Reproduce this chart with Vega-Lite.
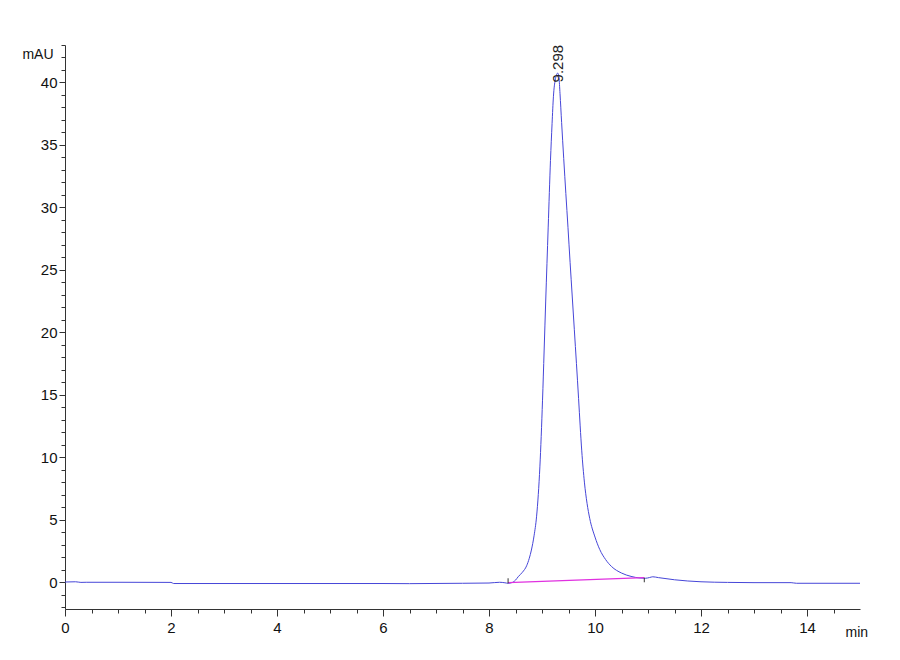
{
  "$schema": "https://vega.github.io/schema/vega-lite/v6.json",
  "width": 795,
  "height": 564,
  "autosize": "none",
  "padding": {"left": 65, "top": 45, "right": 40, "bottom": 51},
  "background": "white",
  "config": {
    "view": {"stroke": null},
    "axis": {
      "grid": false,
      "domainColor": "#333",
      "tickColor": "#333",
      "labelColor": "#111",
      "titleColor": "#111",
      "labelFont": "Liberation Sans, Arial, sans-serif",
      "titleFont": "Liberation Sans, Arial, sans-serif",
      "labelFontSize": 15,
      "titleFontSize": 14,
      "titleFontWeight": "normal",
      "labelOverlap": false,
      "labelFlush": false,
      "tickCount": 200,
      "format": "d"
    }
  },
  "datasets": {
    "signal": [
      {"t": 0.0, "v": 0.0}, {"t": 0.2, "v": 0.02}, {"t": 0.3, "v": -0.03}, {"t": 0.4, "v": -0.02},
      {"t": 1.0, "v": -0.02}, {"t": 2.0, "v": -0.03}, {"t": 2.05, "v": -0.12}, {"t": 4.0, "v": -0.12},
      {"t": 6.0, "v": -0.12}, {"t": 6.5, "v": -0.13}, {"t": 7.5, "v": -0.1}, {"t": 8.0, "v": -0.08},
      {"t": 8.2, "v": -0.02}, {"t": 8.3, "v": -0.06}, {"t": 8.36, "v": -0.1}, {"t": 8.45, "v": -0.02},
      {"t": 8.5, "v": 0.15}, {"t": 8.55, "v": 0.42}, {"t": 8.63, "v": 0.78}, {"t": 8.71, "v": 1.3},
      {"t": 8.76, "v": 1.9}, {"t": 8.8, "v": 2.56}, {"t": 8.85, "v": 3.7}, {"t": 8.897, "v": 5.22},
      {"t": 8.93, "v": 7.0}, {"t": 8.96, "v": 9.22}, {"t": 9.01, "v": 14.56}, {"t": 9.04, "v": 18.5},
      {"t": 9.07, "v": 22.5}, {"t": 9.117, "v": 28.42}, {"t": 9.16, "v": 33.76}, {"t": 9.19, "v": 36.7},
      {"t": 9.216, "v": 38.9}, {"t": 9.25, "v": 40.2}, {"t": 9.298, "v": 40.75}, {"t": 9.32, "v": 40.4},
      {"t": 9.34, "v": 39.1}, {"t": 9.37, "v": 36.8}, {"t": 9.41, "v": 33.9}, {"t": 9.45, "v": 31.1},
      {"t": 9.49, "v": 28.4}, {"t": 9.53, "v": 25.6}, {"t": 9.57, "v": 22.9}, {"t": 9.61, "v": 20.2},
      {"t": 9.65, "v": 17.5}, {"t": 9.69, "v": 14.7}, {"t": 9.72, "v": 12.5}, {"t": 9.75, "v": 10.5},
      {"t": 9.8, "v": 8.0}, {"t": 9.85, "v": 6.3}, {"t": 9.9, "v": 5.1}, {"t": 10.0, "v": 3.6},
      {"t": 10.09, "v": 2.6}, {"t": 10.2, "v": 1.8}, {"t": 10.31, "v": 1.25}, {"t": 10.5, "v": 0.72},
      {"t": 10.68, "v": 0.45}, {"t": 10.85, "v": 0.32}, {"t": 10.95, "v": 0.3}, {"t": 11.03, "v": 0.36},
      {"t": 11.09, "v": 0.42}, {"t": 11.2, "v": 0.35}, {"t": 11.5, "v": 0.18}, {"t": 12.0, "v": 0.02},
      {"t": 12.5, "v": -0.03}, {"t": 13.0, "v": -0.05}, {"t": 13.7, "v": -0.05}, {"t": 13.8, "v": -0.1},
      {"t": 15.0, "v": -0.1}
    ],
    "baseline": [
      {"t": 8.36, "v": -0.05}, {"t": 10.93, "v": 0.35}
    ],
    "marks": [
      {"t": 8.36, "lo": -0.1, "hi": 0.3},
      {"t": 10.93, "lo": -0.02, "hi": 0.34}
    ],
    "peaks": [
      {"t": 9.298, "v": 40.0, "label": "9.298"}
    ]
  },
  "layer": [
    {
      "data": {"name": "signal"},
      "mark": {"type": "line", "color": "#4646d8", "strokeWidth": 1, "interpolate": "monotone", "clip": true},
      "encoding": {
        "x": {
          "field": "t", "type": "quantitative",
          "scale": {"domain": [0, 15], "nice": false, "zero": false},
          "axis": {
            "title": "min",
            "titleAngle": 0, "titleAlign": "left", "titleBaseline": "alphabetic",
            "titleX": 780, "titleY": 27,
            "values": [0, 0.5, 1, 1.5, 2, 2.5, 3, 3.5, 4, 4.5, 5, 5.5, 6, 6.5, 7, 7.5, 8, 8.5, 9, 9.5, 10, 10.5, 11, 11.5, 12, 12.5, 13, 13.5, 14, 14.5],
            "labelExpr": "datum.value % 2 === 0 ? datum.label : ''",
            "tickSize": {"condition": {"test": "datum.value % 2 === 0", "value": 7}, "value": 4},
            "labelPadding": 4
          }
        },
        "y": {
          "field": "v", "type": "quantitative",
          "scale": {"domain": [-2.16, 43], "nice": false, "zero": false},
          "axis": {
            "title": "mAU",
            "titleAngle": 0, "titleAlign": "right", "titleBaseline": "alphabetic",
            "titleX": -12, "titleY": 13,
            "values": [-2, -1, 0, 1, 2, 3, 4, 5, 6, 7, 8, 9, 10, 11, 12, 13, 14, 15, 16, 17, 18, 19, 20, 21, 22, 23, 24, 25, 26, 27, 28, 29, 30, 31, 32, 33, 34, 35, 36, 37, 38, 39, 40, 41, 42, 43],
            "labelExpr": "datum.value % 5 === 0 ? datum.label : ''",
            "tickSize": {"condition": {"test": "datum.value % 5 === 0", "value": 6}, "value": 4},
            "labelPadding": 2
          }
        }
      }
    },
    {
      "data": {"name": "baseline"},
      "mark": {"type": "line", "color": "#e030e0", "strokeWidth": 1.2},
      "encoding": {
        "x": {"field": "t", "type": "quantitative"},
        "y": {"field": "v", "type": "quantitative"}
      }
    },
    {
      "data": {"name": "marks"},
      "mark": {"type": "rule", "color": "#333", "strokeWidth": 1},
      "encoding": {
        "x": {"field": "t", "type": "quantitative"},
        "y": {"field": "lo", "type": "quantitative"},
        "y2": {"field": "hi"}
      }
    },
    {
      "data": {"name": "peaks"},
      "mark": {"type": "text", "angle": 270, "align": "left", "baseline": "middle", "fontSize": 15, "font": "Liberation Sans, Arial, sans-serif", "color": "#222"},
      "encoding": {
        "x": {"field": "t", "type": "quantitative"},
        "y": {"field": "v", "type": "quantitative"},
        "text": {"field": "label"}
      }
    }
  ]
}
